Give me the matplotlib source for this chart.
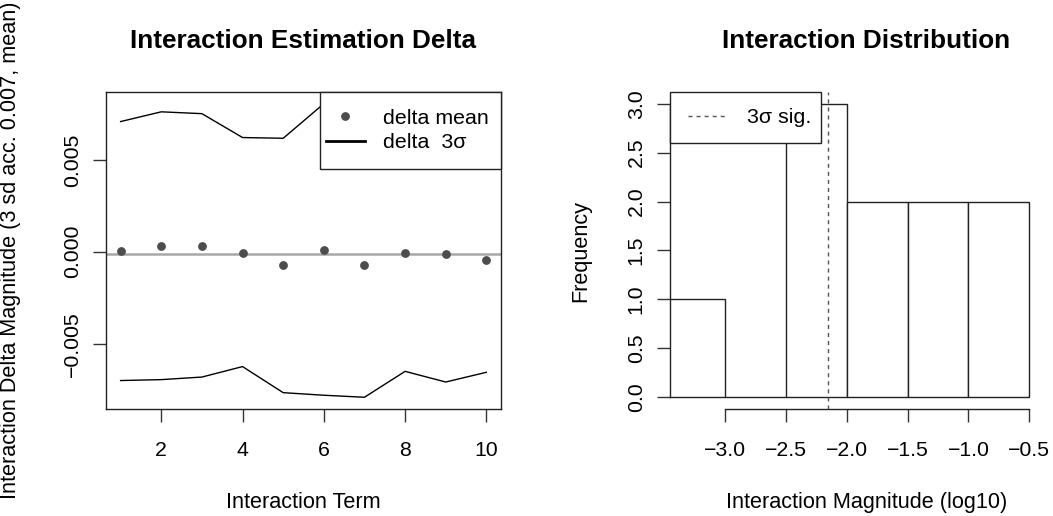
import numpy as np
import matplotlib
matplotlib.use("Agg")
import matplotlib.pyplot as plt
from matplotlib.patches import Rectangle
from matplotlib.lines import Line2D
from matplotlib.ticker import FuncFormatter

plt.rcParams['font.family'] = ['Liberation Sans', 'DejaVu Sans']
plt.rcParams['axes.unicode_minus'] = True

# ---------------- data ----------------
terms = np.arange(1, 11)
delta_mean = [0.00006, 0.00033, 0.00033, -0.00004, -0.00074,
              0.00011, -0.00074, -0.00007, -0.00011, -0.00045]
delta_upper = [0.00709, 0.00762, 0.00752, 0.00622, 0.00618,
               0.00806, 0.00644, 0.00637, 0.00687, 0.00566]
delta_lower = [-0.00701, -0.00696, -0.00682, -0.00625, -0.00767,
               -0.00781, -0.00792, -0.00651, -0.00709, -0.00656]
ref_level = -0.00013
left_xticks = [2, 4, 6, 8, 10]
left_yticks = [-0.005, 0.0, 0.005]

bin_edges = [-3.5, -3.0, -2.5, -2.0, -1.5, -1.0, -0.5]
counts = [1, 0, 3, 2, 2, 2]
threshold = -2.155  # log10(0.007)
right_xticks = [-3.0, -2.5, -2.0, -1.5, -1.0, -0.5]
right_yticks = [0.0, 0.5, 1.0, 1.5, 2.0, 2.5, 3.0]

# ---------------- layout ----------------
W, H = 1053, 516
fig = plt.figure(figsize=(W / 100, H / 100), dpi=100)

def ax_rect(x0, x1, ytop, ybot):
    return [x0 / W, (H - ybot) / H, (x1 - x0) / W, (ybot - ytop) / H]

TICK_FS = 15.3
LAB_FS = 15.6
TITLE_FS = 18.8
LEG_FS = 15.4
TICK_LEN = 9.1
XPAD = 14.0
YPAD = 8.4

def mfmt(fmt):
    return FuncFormatter(lambda v, p: (fmt % v).replace('-', '\u2212'))

def style_ticks(ax):
    ax.tick_params(direction='out', length=TICK_LEN, width=1.0,
                   labelsize=TICK_FS, color='#333333')
    ax.tick_params(axis='x', pad=XPAD)
    ax.tick_params(axis='y', pad=YPAD)
    for lab in ax.get_yticklabels():
        lab.set_rotation(90)
        lab.set_va('center')

# ---------------- left panel ----------------
ax1 = fig.add_axes(ax_rect(106, 501, 92, 409))
ax1.plot(terms, delta_upper, color='black', lw=1.0, zorder=2)
ax1.plot(terms, delta_lower, color='black', lw=1.0, zorder=2)
ax1.axhline(ref_level, color='#A8A8A8', lw=1.8, zorder=1)
ax1.plot(terms, delta_mean, 'o', color='#4D4D4D', ms=5.3, zorder=3)

xr = terms.max() - terms.min()
ax1.set_xlim(terms.min() - 0.04 * xr, terms.max() + 0.04 * xr)
ymin, ymax = min(delta_lower), max(delta_upper)
yr = ymax - ymin
ax1.set_ylim(ymin - 0.04 * yr, ymax + 0.04 * yr)
ax1.set_xticks(left_xticks)
ax1.set_yticks(left_yticks)
ax1.xaxis.set_major_formatter(mfmt('%d'))
ax1.yaxis.set_major_formatter(mfmt('%.3f'))
style_ticks(ax1)
for s in ax1.spines.values():
    s.set_linewidth(1.0)
    s.set_color('#222222')

# legend (left)
fx0 = (320 - 106) / 395
fyb = (409 - 169) / 317
ax1.add_patch(Rectangle((fx0, fyb), 1 - fx0, 1 - fyb, transform=ax1.transAxes,
                        facecolor='white', edgecolor='#222222', lw=1.0, zorder=5,
                        clip_on=False))
h1 = Line2D([], [], marker='o', ls='none', color='#4D4D4D', ms=5.3)
h2 = Line2D([], [], color='black', lw=2.0)
leg1 = ax1.legend([h1, h2], ['delta mean', 'delta  3\u03c3'], loc='center left',
                  bbox_to_anchor=((326 - 106) / 395, (409 - 130.5) / 317),
                  frameon=False, fontsize=LEG_FS, handlelength=1.82,
                  handletextpad=0.85, borderpad=0, borderaxespad=0,
                  labelspacing=0.27, numpoints=1)
leg1.set_zorder(6)

# ---------------- right panel ----------------
ax2 = fig.add_axes(ax_rect(670, 1053, 92, 409))
widths = np.diff(bin_edges)
ax2.bar(bin_edges[:-1], counts, width=widths, align='edge', facecolor='white',
        edgecolor='#222222', lw=1.0, zorder=2)
ax2.axvline(threshold, color='#555555', lw=1.0, dashes=(2.9, 2.9), zorder=3)
scale = (1029.3 - 725.3) / 2.5
left_lim = -3.0 - (725.3 - 670) / scale
ax2.set_xlim(left_lim, left_lim + 383 / scale)
cmax = max(counts)
ax2.set_ylim(-0.04 * cmax, cmax * 1.04)
ax2.set_xticks(right_xticks)
ax2.set_yticks(right_yticks)
ax2.xaxis.set_major_formatter(mfmt('%.1f'))
ax2.yaxis.set_major_formatter(mfmt('%.1f'))
style_ticks(ax2)
ax2.spines['top'].set_visible(False)
ax2.spines['right'].set_visible(False)
ax2.spines['left'].set_bounds(right_yticks[0], right_yticks[-1])
ax2.spines['bottom'].set_bounds(right_xticks[0], right_xticks[-1])
for s in ('left', 'bottom'):
    ax2.spines[s].set_linewidth(1.0)
    ax2.spines[s].set_color('#222222')

# legend (right)
gx1 = (821.3 - 670) / 383
gyb = (409 - 143.3) / 317
ax2.add_patch(Rectangle((0, gyb), gx1, 1 - gyb, transform=ax2.transAxes,
                        facecolor='white', edgecolor='#222222', lw=1.0, zorder=5,
                        clip_on=False))
h3 = Line2D([], [], color='#555555', lw=1.0, dashes=(2.9, 2.9))
leg2 = ax2.legend([h3], ['3\u03c3 sig.'], loc='center left',
                  bbox_to_anchor=((688 - 670) / 383, (409 - 117.8) / 317),
                  frameon=False, fontsize=LEG_FS, handlelength=1.87,
                  handletextpad=0.9, borderpad=0, borderaxespad=0)
leg2.set_zorder(6)

# ---------------- titles and labels ----------------
fig.text(303.5 / W, (H - 48.3) / H, 'Interaction Estimation Delta',
         ha='center', va='baseline', fontsize=TITLE_FS, fontweight='bold')
fig.text(866.5 / W, (H - 48.3) / H, 'Interaction Distribution',
         ha='center', va='baseline', fontsize=TITLE_FS, fontweight='bold')
fig.text(303.5 / W, (H - 508) / H, 'Interaction Term',
         ha='center', va='baseline', fontsize=LAB_FS)
fig.text(867 / W, (H - 508) / H, 'Interaction Magnitude (log10)',
         ha='center', va='baseline', fontsize=LAB_FS)
fig.text(16 / W, (H - 250.5) / H,
         'Interaction Delta Magnitude (3 sd acc. 0.007, mean)',
         ha='center', va='baseline', rotation=90, rotation_mode='anchor',
         fontsize=LAB_FS)
fig.text(586.7 / W, (H - 250.5) / H, 'Frequency',
         ha='center', va='baseline', rotation=90, rotation_mode='anchor',
         fontsize=LAB_FS)

fig.savefig('out.png', dpi=100, facecolor='white')
